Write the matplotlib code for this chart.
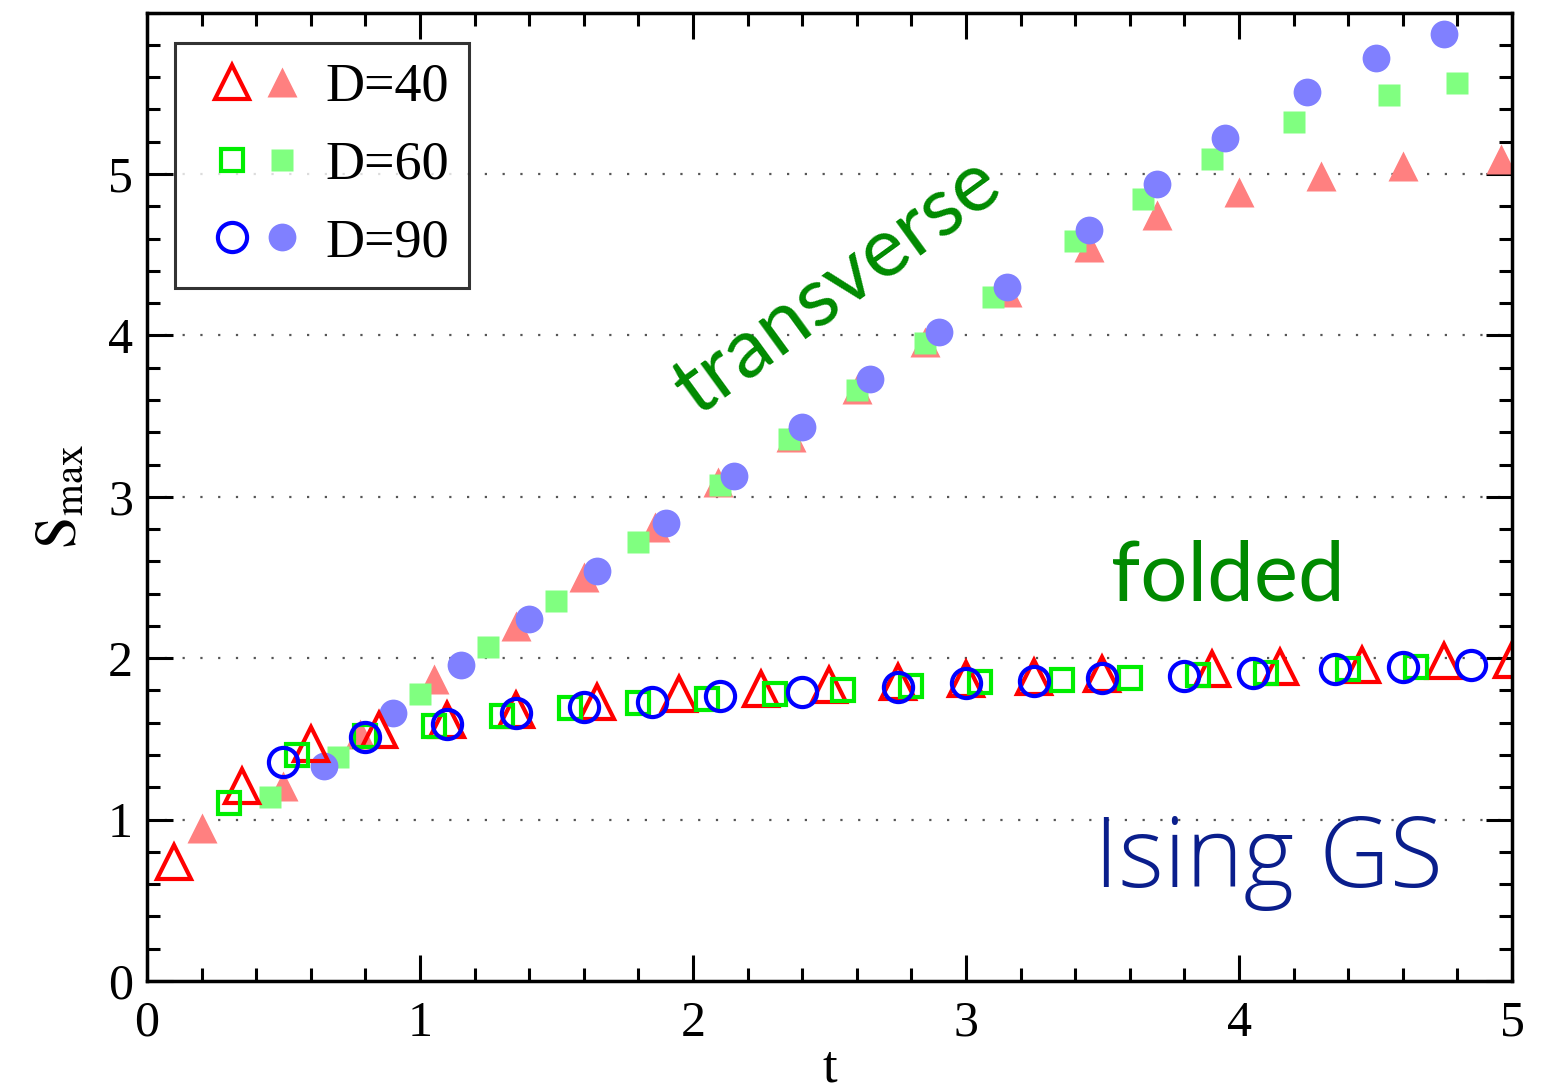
import numpy as np
import matplotlib
matplotlib.use("Agg")
import matplotlib.pyplot as plt
import matplotlib.ticker as ticker
from matplotlib.legend_handler import HandlerTuple

plt.rcParams['font.family'] = ['Liberation Serif', 'DejaVu Serif']
plt.rcParams['mathtext.fontset'] = 'stix'

# folded (open symbols)
t40_open = [0.1, 0.35, 0.6, 0.85, 1.1, 1.35, 1.65, 1.95, 2.25, 2.5, 2.75, 3.0, 3.25, 3.5, 3.9, 4.15, 4.45, 4.75, 5.0]
s40_open = [0.74, 1.21, 1.47, 1.555, 1.62, 1.68, 1.73, 1.78, 1.81, 1.835, 1.85, 1.87, 1.885, 1.90, 1.93, 1.945, 1.96, 1.98, 1.99]
t60_open = [0.3, 0.55, 0.8, 1.05, 1.3, 1.55, 1.8, 2.05, 2.3, 2.55, 2.8, 3.05, 3.35, 3.6, 3.85, 4.1, 4.4, 4.65]
s60_open = [1.10, 1.40, 1.52, 1.58, 1.64, 1.69, 1.72, 1.75, 1.78, 1.80, 1.83, 1.85, 1.865, 1.88, 1.895, 1.91, 1.93, 1.945]
t90_open = [0.5, 0.8, 1.1, 1.35, 1.6, 1.85, 2.1, 2.4, 2.75, 3.0, 3.25, 3.5, 3.8, 4.05, 4.35, 4.6, 4.85]
s90_open = [1.36, 1.51, 1.59, 1.66, 1.70, 1.73, 1.765, 1.79, 1.82, 1.845, 1.86, 1.875, 1.89, 1.91, 1.93, 1.945, 1.96]

# transverse (filled symbols)
t40_fill = [0.2, 0.5, 0.78, 1.05, 1.35, 1.6, 1.86, 2.09, 2.36, 2.6, 2.85, 3.15, 3.45, 3.7, 4.0, 4.3, 4.6, 4.96]
s40_fill = [0.95, 1.21, 1.53, 1.87, 2.20, 2.50, 2.81, 3.09, 3.37, 3.67, 3.96, 4.27, 4.55, 4.745, 4.89, 4.99, 5.05, 5.09]
t60_fill = [0.45, 0.7, 1.0, 1.25, 1.5, 1.8, 2.1, 2.35, 2.6, 2.85, 3.1, 3.4, 3.65, 3.9, 4.2, 4.55, 4.8]
s60_fill = [1.14, 1.39, 1.78, 2.07, 2.355, 2.72, 3.07, 3.36, 3.66, 3.95, 4.24, 4.585, 4.845, 5.09, 5.32, 5.49, 5.565]
t90_fill = [0.65, 0.9, 1.15, 1.4, 1.65, 1.9, 2.15, 2.4, 2.65, 2.9, 3.15, 3.45, 3.7, 3.95, 4.25, 4.5, 4.75]
s90_fill = [1.33, 1.66, 1.96, 2.24, 2.54, 2.84, 3.13, 3.43, 3.73, 4.02, 4.30, 4.65, 4.94, 5.22, 5.51, 5.72, 5.87]

labels = ['D=40', 'D=60', 'D=90']

fig = plt.figure(figsize=(15.5, 10.91), dpi=100)
ax = fig.add_axes([0.0948, 0.1008, 0.8807, 0.8877])

# filled first, open on top
f40, = ax.plot(t40_fill, s40_fill, '^', ms=22, color='#ff8080', mec='none', ls='none')
f60, = ax.plot(t60_fill, s60_fill, 's', ms=16, color='#80ff80', mec='none', ls='none')
f90, = ax.plot(t90_fill, s90_fill, 'o', ms=20, color='#8080ff', mec='none', ls='none')
o40, = ax.plot(t40_open, s40_open, '^', ms=24, mfc='none', mec='#ff0000', mew=3, ls='none')
o60, = ax.plot(t60_open, s60_open, 's', ms=16, mfc='none', mec='#00ee00', mew=3, ls='none')
o90, = ax.plot(t90_open, s90_open, 'o', ms=21, mfc='none', mec='#0000ff', mew=3, ls='none')

ax.set_xlim(0, 5)
ax.set_ylim(0, 6)
ax.set_xticks(np.arange(0, 6, 1))
ax.set_yticks(np.arange(0, 6, 1))
ax.xaxis.set_minor_locator(ticker.MultipleLocator(0.2))
ax.yaxis.set_minor_locator(ticker.MultipleLocator(0.2))
ax.tick_params(which='both', direction='in', top=True, right=True, width=2.2, labelsize=36)
ax.tick_params(which='major', length=19)
ax.tick_params(which='minor', length=9.5)
ax.tick_params(axis='x', pad=14)
ax.tick_params(axis='y', pad=10)
for sp in ax.spines.values():
    sp.set_linewidth(2.5)

for yv in range(1, 6):
    ax.axhline(yv, color='#555555', lw=1.6, ls=(0, (1, 7)), zorder=0)

ax.set_xlabel('t', fontsize=38, labelpad=-2)
ax.set_ylabel(r'$\mathrm{S_{max}}$', fontsize=42, labelpad=14)

ax.text(2.53, 4.3, 'transverse', family='Lato', fontsize=60, color='#008a00',
        rotation=36, rotation_mode='anchor', ha='center', va='center')
ax.text(3.53, 2.36, 'folded', family='Lato', fontsize=60, color='#008a00',
        ha='left', va='baseline')
ax.text(3.47, 0.585, 'Ising GS', family='Open Sans', fontweight='light', fontsize=70,
        color='#0a1e8c', ha='left', va='baseline')

leg = ax.legend([(o40, f40), (o60, f60), (o90, f90)], labels,
                handler_map={tuple: HandlerTuple(ndivide=None, pad=-0.45)},
                loc='upper left', bbox_to_anchor=(0.0205, 0.9686), borderaxespad=0,
                fontsize=39, frameon=True, fancybox=False, handlelength=2.3,
                handletextpad=0.12, labelspacing=0.5, borderpad=0.36)
leg.get_frame().set_edgecolor('black')
leg.get_frame().set_linewidth(2.2)

fig.savefig('out.png', dpi=100)
